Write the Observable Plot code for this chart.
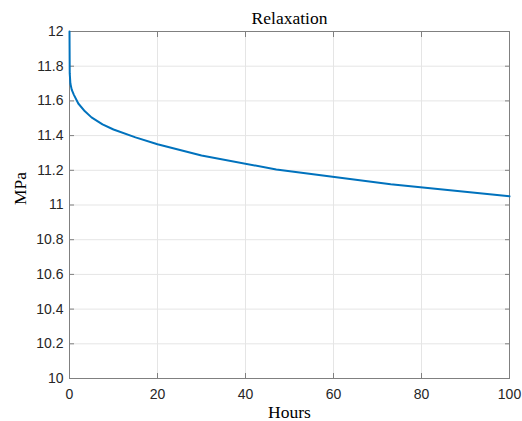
<!DOCTYPE html>
<html><head><meta charset="utf-8">
<script src="https://cdn.jsdelivr.net/npm/d3@7"></script>
<script src="https://cdn.jsdelivr.net/npm/@observablehq/plot@0.6"></script>
<style>body{margin:0;background:#fff}</style>
</head><body><div id="chart"></div>
<script>
const hours = [0, 0.05, 0.2, 0.5, 1, 2, 3.5, 5, 7.5, 10, 15, 20, 30, 47, 73, 100];
const mpa   = [12, 11.76, 11.70, 11.665, 11.635, 11.585, 11.54, 11.505, 11.465, 11.435, 11.39, 11.35, 11.285, 11.205, 11.12, 11.05];
const xTicks = [0, 20, 40, 60, 80, 100];
const yTicks = [10, 10.2, 10.4, 10.6, 10.8, 11, 11.2, 11.4, 11.6, 11.8, 12];
const title = "Relaxation", xLabel = "Hours", yLabel = "MPa";

const data = hours.map((h, i) => ({h, v: mpa[i]}));
const serif = "'Liberation Serif', 'DejaVu Serif', serif";
const axisColor = "#262626";

const plot = Plot.plot({
  width: 522, height: 421,
  marginLeft: 69, marginRight: 13, marginTop: 31, marginBottom: 43,
  style: {fontFamily: "'Liberation Sans', Arial, sans-serif", fontSize: "14px", color: axisColor, background: "#fff"},
  x: {domain: [0, 100], ticks: xTicks},
  y: {domain: [10, 12], ticks: yTicks},
  marks: [
    Plot.gridX(xTicks, {stroke: "#e5e5e5", strokeOpacity: 1}),
    Plot.gridY(yTicks, {stroke: "#e5e5e5", strokeOpacity: 1}),
    Plot.axisX(xTicks, {anchor: "bottom", tickSize: -5, tickPadding: 16, stroke: "#808080", label: null, tickFormat: d => d}),
    Plot.axisX(xTicks, {anchor: "top", tickSize: -5, stroke: "#808080", text: null, label: null}),
    Plot.axisY(yTicks, {anchor: "left", tickSize: -5, tickPadding: 11, stroke: "#808080", label: null, tickFormat: d => String(d)}),
    Plot.axisY(yTicks, {anchor: "right", tickSize: -5, stroke: "#808080", text: null, label: null}),
    Plot.frame({stroke: "#808080", strokeWidth: 1}),
    Plot.line(data, {x: "h", y: "v", stroke: "#0072BD", strokeWidth: 2}),
    Plot.text([title], {frameAnchor: "top", lineAnchor: "middle", dy: -13, fontFamily: serif, fontSize: 17.5, fill: "#000"}),
    Plot.text([xLabel], {frameAnchor: "bottom", lineAnchor: "middle", dy: 34, fontFamily: serif, fontSize: 17.5, fill: "#000"}),
    Plot.text([yLabel], {frameAnchor: "left", lineAnchor: "middle", dx: -49, rotate: -90, fontFamily: serif, fontSize: 17.5, fill: "#000"})
  ]
});
document.getElementById("chart").appendChild(plot);
</script></body></html>
